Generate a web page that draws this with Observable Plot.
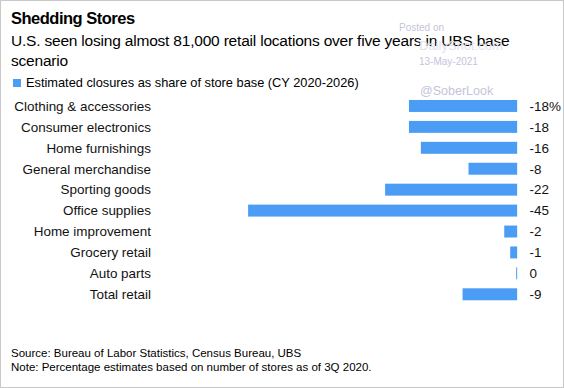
<!DOCTYPE html>
<html><head><meta charset="utf-8">
<script src="https://cdn.jsdelivr.net/npm/d3@7"></script>
<script src="https://cdn.jsdelivr.net/npm/@observablehq/plot@0.6"></script>
<style>
body{margin:0;font-family:"Liberation Sans",Arial,Helvetica,sans-serif;}
#wrap{position:relative;width:564px;height:388px;box-sizing:border-box;border:1px solid #c8c8c8;background:#fff;overflow:hidden;}
.t{position:absolute;white-space:nowrap;color:#000;}
.wm{position:absolute;white-space:nowrap;color:#c4c4dc;}
#chart{position:absolute;left:0;top:94px;}
</style></head><body>
<div id="wrap">
<div class="t" style="left:10px;top:8px;font-size:16.5px;font-weight:bold;letter-spacing:-0.5px;">Shedding Stores</div>
<div class="t" style="left:10px;top:30px;font-size:15.5px;letter-spacing:-0.2px;line-height:20px;">U.S. seen losing almost 81,000 retail locations over five years in UBS base<br>scenario</div>
<div class="t" style="left:12px;top:74px;font-size:12.8px;"><span style="display:inline-block;width:8px;height:8px;background:#4a9cf5;margin-right:5px;"></span>Estimated closures as share of store base (CY 2020-2026)</div>
<div class="wm" style="left:398px;top:21px;font-size:10px;">Posted on</div>
<div class="wm" style="left:418px;top:37px;font-size:13px;color:#e2e2ee;">DailyShot.com</div>
<div class="wm" style="left:418px;top:55px;font-size:10px;">13-May-2021</div>
<div class="wm" style="left:419px;top:83px;font-size:12.5px;">@SoberLook</div>
<div id="chart"></div>
<div class="t" style="left:10px;top:345px;font-size:11.5px;line-height:14px;">Source: Bureau of Labor Statistics, Census Bureau, UBS<br>Note: Percentage estimates based on number of stores as of 3Q 2020.</div>
</div>
<script>
const categories = ["Clothing & accessories","Consumer electronics","Home furnishings","General merchandise","Sporting goods","Office supplies","Home improvement","Grocery retail","Auto parts","Total retail"];
const values = [-18,-18,-16,-8,-22,-45,-2,-1,0,-9];
const valueLabels = ["-18%","-18","-16","-8","-22","-45","-2","-1","0","-9"];
const data = categories.map((c,i)=>({category:c,value:values[i],label:valueLabels[i]}));
const chart = Plot.plot({
  width:564, height:211,
  marginLeft:248, marginRight:47, marginTop:0, marginBottom:0,
  style:{fontFamily:"'Liberation Sans',Arial,sans-serif",fontSize:"13.5px",color:"#111",background:"transparent"},
  x:{domain:[-45,0],axis:null},
  y:{domain:categories,paddingInner:0.43,paddingOuter:0.215,label:null},
  marks:[
    Plot.axisY({tickSize:0,tickPadding:98,label:null,fontSize:13.5}),
    Plot.barX(data,{x1:"value",x2:0,y:"category",fill:"#4a9cf5",insetRight:-1}),
    Plot.text(data,{x:0,y:"category",text:"label",textAnchor:"start",dx:13,fontSize:13.5,fill:"#111"})
  ]
});
document.getElementById("chart").appendChild(chart);
</script>
</body></html>
